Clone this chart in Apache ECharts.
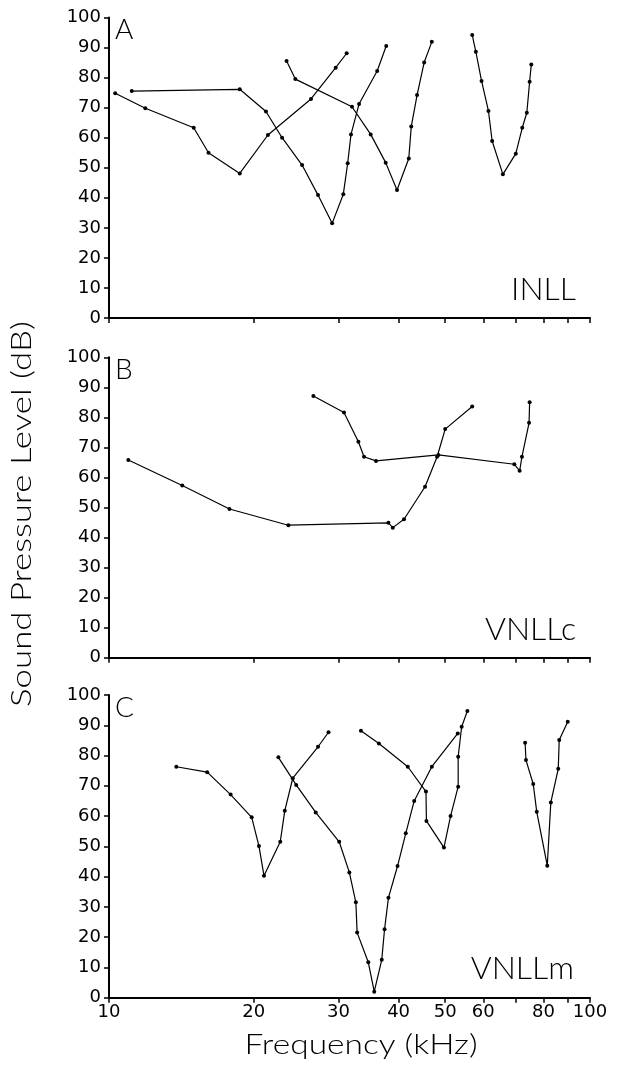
<!DOCTYPE html>
<html>
<head>
<meta charset="utf-8">
<script src="https://cdn.jsdelivr.net/npm/echarts@6/dist/echarts.min.js"></script>
<style>
html,body{margin:0;padding:0;background:#fff;}
#chart{width:633px;height:1072px;}
</style>
</head>
<body>
<div id="chart"></div>
<script>
// ---- Data (frequency in kHz, level in dB SPL) ----
const xTickValues = [10, 20, 30, 40, 50, 60, 70, 80, 90, 100];
const xLabelValues = [10, 20, 30, 40, 50, 60, 80, 100];
const panelLetters = ['A', 'B', 'C'];
const nucleusNames = ['INLL', 'VNLLc', 'VNLLm'];
const xTitle = 'Frequency (kHz)';
const yTitle = 'Sound Pressure Level (dB)';

// Panel A (INLL)
const A1_f  = [10.3, 11.9, 15.0, 16.1, 18.7, 21.4, 26.3, 29.6, 31.2];
const A1_db = [74.8, 69.8, 63.3, 55.0, 48.1, 60.9, 72.9, 83.3, 88.1];
const A2_f  = [11.15, 18.7, 21.2, 22.9, 25.2, 27.2, 29.1, 30.7, 31.35, 31.85, 33.1, 36.1, 37.7];
const A2_db = [75.5, 76.1, 68.7, 60.0, 50.9, 40.9, 31.5, 41.2, 51.5, 61.1, 71.2, 82.2, 90.5];
const A3_f  = [23.4, 24.4, 32.0, 35.0, 37.6, 39.7, 42.0, 42.5, 43.7, 45.2, 46.9];
const A3_db = [85.5, 79.5, 70.3, 61.1, 51.7, 42.6, 53.1, 63.7, 74.2, 85.0, 91.9];
const A4_f  = [56.9, 57.9, 59.5, 61.5, 62.6, 65.9, 70.1, 72.3, 73.9, 74.9, 75.5];
const A4_db = [94.2, 88.6, 78.9, 68.9, 58.9, 47.8, 54.7, 63.3, 68.3, 78.6, 84.4];

// Panel B (VNLLc)
const B1_f  = [10.97, 14.2, 17.8, 23.6, 38.1, 38.9, 41.05, 45.4, 48.1, 50.0, 56.9];
const B1_db = [65.8, 57.3, 49.5, 44.1, 44.9, 43.3, 46.1, 56.9, 66.9, 76.1, 83.6];
const B2_f  = [26.6, 30.8, 33.0, 33.9, 35.9, 48.4, 69.6, 71.4, 72.2, 74.7, 74.9];
const B2_db = [87.1, 81.6, 71.9, 66.9, 65.5, 67.5, 64.4, 62.2, 66.9, 78.2, 85.0];

// Panel C (VNLLm)
const C1_f  = [13.8, 16.0, 17.9, 19.8, 20.5, 21.0, 22.7, 23.2, 24.1, 27.2, 28.6];
const C1_db = [76.3, 74.5, 67.1, 59.6, 50.1, 40.3, 51.5, 61.8, 72.5, 82.9, 87.7];
const C2_f  = [22.5, 24.5, 26.9, 30.1, 31.6, 32.6, 32.8, 34.6, 35.6, 36.9, 37.4, 38.1, 39.8, 41.4, 43.1, 46.9, 53.1];
const C2_db = [79.4, 70.3, 61.2, 51.5, 41.4, 31.5, 21.5, 11.7, 2.0, 12.5, 22.6, 33.0, 43.5, 54.3, 65.0, 76.3, 87.3];
const C3_f  = [33.4, 36.4, 41.8, 45.6, 45.7, 49.7, 51.3, 53.2, 53.2, 54.1, 55.6];
const C3_db = [88.2, 84.0, 76.3, 68.1, 58.4, 49.6, 60.0, 69.7, 79.6, 89.5, 94.7];
const C4_f  = [73.3, 73.6, 76.2, 77.5, 81.5, 82.9, 85.9, 86.3, 89.9];
const C4_db = [84.2, 78.5, 70.6, 61.4, 43.6, 64.5, 75.6, 85.1, 91.2];

const panelCurves = [
  [[A1_f, A1_db], [A2_f, A2_db], [A3_f, A3_db], [A4_f, A4_db]],
  [[B1_f, B1_db], [B2_f, B2_db]],
  [[C1_f, C1_db], [C2_f, C2_db], [C3_f, C3_db], [C4_f, C4_db]]
];

// ---- Layout ----
const gridLeft = 109, gridWidth = 481;
const gridTops = [17.5, 357.3, 695];
const gridHeights = [300.5, 300.4, 302.7];
const tickFont = '"DejaVu Sans", sans-serif';
const nameFont = 'Lato, "DejaVu Sans", sans-serif';

const chart = echarts.init(document.getElementById('chart'), null, {renderer: 'canvas'});

const grids = [], xAxes = [], yAxes = [], series = [];
gridTops.forEach((t, i) => {
  grids.push({left: gridLeft, top: t, width: gridWidth, height: gridHeights[i], containLabel: false});
  xAxes.push({
    type: 'log', logBase: 10, min: 10, max: 100, gridIndex: i,
    axisLine: {show: true, onZero: false, lineStyle: {color: '#000', width: 2}},
    axisTick: {show: true, inside: false, length: 5, customValues: xTickValues, lineStyle: {color: '#000', width: 1.5}},
    axisLabel: {show: i === 2, customValues: xLabelValues, color: '#000', fontFamily: tickFont, fontSize: 18, margin: 6},
    splitLine: {show: false}
  });
  yAxes.push({
    type: 'value', min: 0, max: 100, interval: 10, gridIndex: i,
    axisLine: {show: true, lineStyle: {color: '#000', width: 2}},
    axisTick: {show: true, inside: false, length: 5, lineStyle: {color: '#000', width: 1.5}},
    axisLabel: {color: '#000', fontFamily: tickFont, fontSize: 18, margin: 8},
    splitLine: {show: false}
  });
  panelCurves[i].forEach(([fs, dbs]) => {
    series.push({
      type: 'line', xAxisIndex: i, yAxisIndex: i,
      data: fs.map((f, k) => [f, dbs[k]]),
      symbol: 'circle', symbolSize: 4, showSymbol: true,
      lineStyle: {color: '#000', width: 1.2},
      itemStyle: {color: '#000'},
      silent: true, animation: false
    });
  });
});

const letterPos = [[115, 30], [115, 370], [115, 708]];
const namePos = [[576, 290], [576, 630], [574, 969]];
const graphics = [];
panelLetters.forEach((L, i) => {
  graphics.push({type: 'text', x: letterPos[i][0], y: letterPos[i][1],
    style: {text: L, font: '300 28px ' + nameFont, fill: '#000', textAlign: 'left', textVerticalAlign: 'middle'}});
});
nucleusNames.forEach((N, i) => {
  graphics.push({type: 'text', x: namePos[i][0], y: namePos[i][1],
    style: {text: N, font: '300 32px ' + nameFont, fill: '#000', textAlign: 'right', textVerticalAlign: 'middle'}});
});
graphics.push({type: 'text', x: 361, y: 1045, scaleX: 1.24,
  style: {text: xTitle, font: '300 27px ' + nameFont, fill: '#000', textAlign: 'center', textVerticalAlign: 'middle'}});
graphics.push({type: 'text', x: 22, y: 514, rotation: Math.PI / 2, scaleX: 1.29,
  style: {text: yTitle, font: '300 27px ' + nameFont, fill: '#000', textAlign: 'center', textVerticalAlign: 'middle'}});

chart.setOption({
  animation: false,
  backgroundColor: '#fff',
  grid: grids, xAxis: xAxes, yAxis: yAxes, series: series,
  graphic: graphics
});
</script>
</body>
</html>
